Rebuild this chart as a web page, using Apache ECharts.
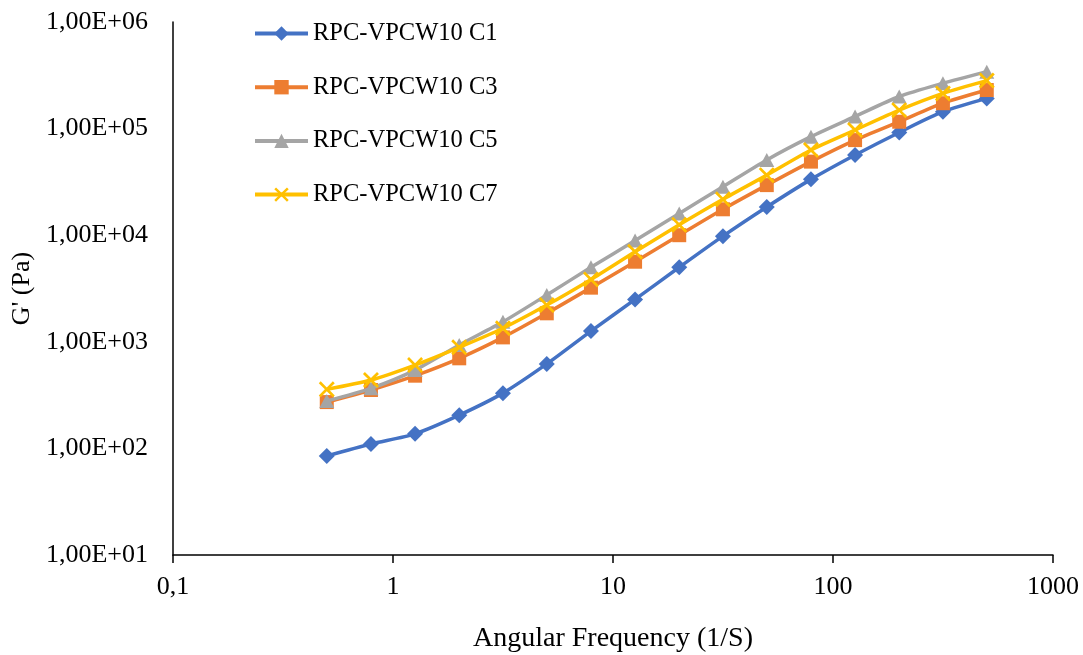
<!DOCTYPE html>
<html>
<head>
<meta charset="utf-8">
<script src="https://cdn.jsdelivr.net/npm/echarts@6/dist/echarts.min.js"></script>
<style>html,body{margin:0;padding:0;background:#fff}#c{width:1083px;height:655px}</style>
</head>
<body>
<div id="c"></div>
<script>
const freq = [0.5, 0.794, 1.26, 2, 3.16, 5, 7.94, 12.6, 20, 31.6, 50, 79.4, 126, 200, 316, 500];
const seriesNames = ["RPC-VPCW10 C1", "RPC-VPCW10 C3", "RPC-VPCW10 C5", "RPC-VPCW10 C7"];
const c1 = [85, 110, 137, 205, 330, 620, 1260, 2500, 5000, 9800, 18400, 33400, 56500, 92000, 144000, 192000];
const c3 = [272, 353, 481, 700, 1100, 1850, 3220, 5640, 10000, 17500, 29500, 49000, 78000, 116000, 173000, 230000];
const c5 = [278, 366, 543, 933, 1540, 2750, 5000, 8900, 16000, 28500, 50800, 84000, 130000, 200000, 266000, 342000];
const c7 = [358, 438, 605, 887, 1340, 2210, 3850, 7000, 12500, 21700, 36600, 63000, 97000, 149000, 214000, 282000];
const xTickLabels = {"-1": "0,1", "0": "1", "1": "10", "2": "100", "3": "1000"};
const yTickLabels = {"1": "1,00E+01", "2": "1,00E+02", "3": "1,00E+03", "4": "1,00E+04", "5": "1,00E+05", "6": "1,00E+06"};

const colors = ["#4472C4", "#ED7D31", "#A5A5A5", "#FFC000"];
const xPath = 'path://M0,1.2L1.2,0L5,3.8L8.8,0L10,1.2L6.2,5L10,8.8L8.8,10L5,6.2L1.2,10L0,8.8L3.8,5Z';
const symbols = ["diamond", "rect", "triangle", xPath];
const sizes = [[16, 16], 14, [15, 14], 16];
const datasets = [c1, c3, c5, c7];
const font = "'Liberation Serif', 'Times New Roman', serif";

const chart = echarts.init(document.getElementById('c'), null, {renderer: 'canvas'});
chart.setOption({
  animation: false,
  backgroundColor: '#fff',
  grid: {left: 173, right: 30, top: 22, bottom: 100, containLabel: false, outerBoundsMode: 'none'},
  legend: {
    orient: 'vertical', left: 248, top: 16,
    itemWidth: 53, itemHeight: 18, itemGap: 28.7,
    lineStyle: {width: 4},
    textStyle: {fontFamily: font, fontSize: 24.5, color: '#000', lineHeight: 24},
    data: seriesNames
  },
  xAxis: {
    type: 'log', logBase: 10, min: 0.1, max: 1000,
    name: 'Angular Frequency (1/S)', nameLocation: 'middle', nameGap: 70,
    nameTextStyle: {fontFamily: font, fontSize: 28, color: '#000'},
    axisLine: {show: true, lineStyle: {color: '#000', width: 1.5}},
    axisTick: {show: true, length: 8, lineStyle: {color: '#000', width: 1.5}},
    minorTick: {show: false},
    splitLine: {show: false},
    axisLabel: {fontFamily: font, fontSize: 26, color: '#000', margin: 19,
      formatter: v => xTickLabels[String(Math.round(Math.log10(v)))] || ''}
  },
  yAxis: {
    type: 'log', logBase: 10, min: 10, max: 1000000,
    name: "G' (Pa)", nameLocation: 'middle', nameGap: 135, nameRotate: 90,
    nameTextStyle: {fontFamily: font, fontSize: 26, color: '#000'},
    axisLine: {show: true, lineStyle: {color: '#000', width: 1.5}},
    axisTick: {show: false},
    splitLine: {show: false},
    axisLabel: {fontFamily: font, fontSize: 26, color: '#000', margin: 25,
      formatter: v => yTickLabels[String(Math.round(Math.log10(v)))] || ''}
  },
  series: datasets.map((d, i) => ({
    name: seriesNames[i],
    type: 'line',
    smooth: 0.25,
    data: freq.map((f, j) => [f, d[j]]),
    symbol: symbols[i],
    symbolSize: sizes[i],
    showSymbol: true,
    lineStyle: {color: colors[i], width: 3.5},
    itemStyle: {color: colors[i]},
    z: 2 + i
  }))
});
</script>
</body>
</html>
